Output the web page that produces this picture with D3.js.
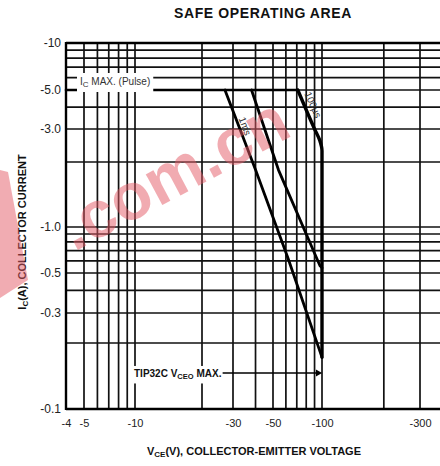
<!DOCTYPE html>
<html><head><meta charset="utf-8">
<script src="https://cdn.jsdelivr.net/npm/d3@7"></script>
<style>body{margin:0;background:#fff}svg{display:block}</style>
</head><body>
<script>
// ---- data ----
const xTickValues = [4, 5, 10, 30, 50, 100, 300];
const xTickLabels = ["-4", "-5", "-10", "-30", "-50", "-100", "-300"];
const yTickValues = [10, 5, 3, 1, 0.5, 0.3, 0.1];
const yTickLabels = ["-10", "-5.0", "-3.0", "-1.0", "-0.5", "-0.3", "-0.1"];
const xGridValues = [4, 5, 6, 7, 8, 9, 10, 20, 30, 40, 50, 60, 70, 80, 90, 100, 200, 300, 400];
const yGridValues = [0.1, 0.2, 0.3, 0.4, 0.5, 0.6, 0.7, 0.8, 0.9, 1, 2, 3, 4, 5, 6, 7, 8, 9, 10];
const icMaxV = [4, 71];
const icMaxI = [5, 5];
const us100V = [71, 90, 97, 100, 100];
const us100I = [5, 3, 2.6, 2.3, 0.172];
const curveAV = [27, 40, 62, 100];
const curveAI = [5, 1.84, 0.62, 0.172];
const curveBV = [38, 54, 97, 100];
const curveBI = [5, 1.84, 0.56, 0.54];
const vceoV = 100, vceoI = 0.146;

// ---- layout ----
const W = 440, H = 466;
const svg = d3.select("body").append("svg").attr("width", W).attr("height", H)
  .style("font-family", "'Liberation Sans', Arial, Helvetica, sans-serif");

// scanned paper is slightly warped; piecewise log scales follow the printed grid
const x = d3.scaleLog().domain([4, 5, 10, 20, 30, 50, 100, 300, 400])
  .range([66, 84, 135, 202, 233, 273, 322, 420, 446]);
const y = d3.scaleLog().domain([0.1, 0.2, 0.3, 0.5, 1, 2, 3, 5, 10])
  .range([409, 343, 313, 273, 227, 162, 129, 90, 43]);

const grid = svg.append("g").attr("stroke", "#111").attr("stroke-width", 1.7);
grid.selectAll("line.v").data(xGridValues).join("line").attr("class", "v")
  .attr("x1", d => x(d)).attr("x2", d => x(d))
  .attr("y1", y(10)).attr("y2", y(0.1));
grid.selectAll("line.h").data(yGridValues).join("line").attr("class", "h")
  .attr("x1", x(4)).attr("x2", W)
  .attr("y1", d => y(d)).attr("y2", d => y(d));

// frame emphasis
svg.append("line").attr("x1", x(4)).attr("x2", x(4)).attr("y1", y(10) - 1).attr("y2", y(0.1) + 1)
  .attr("stroke", "#000").attr("stroke-width", 2.4);
svg.append("line").attr("x1", x(4)).attr("x2", W).attr("y1", y(0.1)).attr("y2", y(0.1))
  .attr("stroke", "#000").attr("stroke-width", 2.4);
svg.append("line").attr("x1", x(4)).attr("x2", W).attr("y1", y(10)).attr("y2", y(10))
  .attr("stroke", "#000").attr("stroke-width", 2.4);

// axes
const yAxis = svg.append("g").attr("transform", `translate(${x(4)},0)`)
  .call(d3.axisLeft(y).tickValues(yTickValues).tickFormat((d, i) => yTickLabels[i]).tickSize(0).tickPadding(5));
yAxis.select(".domain").remove();
yAxis.selectAll("text").attr("font-size", 12).attr("fill", "#222").attr("font-family", "'Liberation Sans', Arial, sans-serif");

const xAxis = svg.append("g").attr("transform", `translate(0,${y(0.1)})`)
  .call(d3.axisBottom(x).tickValues(xTickValues).tickFormat((d, i) => xTickLabels[i]).tickSize(0).tickPadding(10));
xAxis.select(".domain").remove();
xAxis.selectAll("text").attr("font-size", 11).attr("fill", "#222").attr("font-family", "'Liberation Sans', Arial, sans-serif");

// curves
const line = d3.line().x(d => x(d[0])).y(d => y(d[1]));
const curves = svg.append("g").attr("fill", "none").attr("stroke", "#000")
  .attr("stroke-linejoin", "round").attr("stroke-linecap", "round");
curves.append("path").datum(icMaxV.map((v, i) => [v, icMaxI[i]])).attr("d", line).attr("stroke-width", 2.6);
curves.append("path").datum(us100V.map((v, i) => [v, us100I[i]]))
  .attr("d", d3.line().x(d => x(d[0])).y(d => y(d[1])).curve(d3.curveMonotoneY)).attr("stroke-width", 3.4);
curves.append("path").datum(curveAV.map((v, i) => [v, curveAI[i]])).attr("d", line).attr("stroke-width", 2.8);
curves.append("path").datum(curveBV.map((v, i) => [v, curveBI[i]])).attr("d", line).attr("stroke-width", 2.8);

// labels with white backing
function boxedText(g, pad) {
  const b = g.node().getBBox();
  g.insert("rect", ":first-child").attr("x", b.x - pad).attr("y", b.y - pad)
    .attr("width", b.width + 2 * pad).attr("height", b.height + 2 * pad).attr("fill", "#fff");
}
const icLab = svg.append("g");
const icT = icLab.append("text").attr("x", x(4) + 14).attr("y", y(5) - 5)
  .attr("font-size", 10).attr("fill", "#333");
icT.append("tspan").text("I");
icT.append("tspan").attr("font-size", 8).attr("dy", 2).text("C");
icT.append("tspan").attr("dy", -2).text(" MAX. (Pulse)");
boxedText(icLab, 3);

svg.append("text").attr("transform", `translate(${x(36) - 3},${y(3.1)}) rotate(70)`)
  .attr("text-anchor", "middle").attr("dominant-baseline", "middle")
  .attr("font-size", 10).attr("fill", "#333").text("1ms");
svg.append("text").attr("transform", `translate(${x(86) + 1},${y(4.1)}) rotate(66)`)
  .attr("text-anchor", "middle").attr("dominant-baseline", "middle")
  .attr("font-size", 10).attr("fill", "#333").text("100µs");

// VCEO max label with arrow
const vLab = svg.append("g");
const vT = vLab.append("text").attr("x", x(10) - 1).attr("y", y(vceoI) + 4)
  .attr("font-size", 10).attr("font-weight", "bold").attr("fill", "#111");
vT.append("tspan").text("TIP32C V");
vT.append("tspan").attr("font-size", 7.5).attr("dy", 2.5).text("CEO");
vT.append("tspan").attr("dy", -2.5).text(" MAX.");
boxedText(vLab, 2);
const vEnd = vT.node().getBBox();
svg.append("line").attr("x1", vEnd.x + vEnd.width + 1).attr("x2", x(vceoV) - 4)
  .attr("y1", y(vceoI)).attr("y2", y(vceoI)).attr("stroke", "#000").attr("stroke-width", 1.6);
svg.append("path").attr("d", d3.symbol(d3.symbolTriangle, 22)())
  .attr("transform", `translate(${x(vceoV) - 4},${y(vceoI)}) rotate(90)`).attr("fill", "#000");

// titles
svg.append("text").attr("x", 263).attr("y", 18).attr("text-anchor", "middle")
  .attr("font-size", 14).attr("font-weight", "bold").attr("letter-spacing", 0.6)
  .attr("fill", "#111").text("SAFE OPERATING AREA");

const xt = svg.append("text").attr("x", 254).attr("y", 455).attr("text-anchor", "middle")
  .attr("font-size", 11).attr("font-weight", "bold").attr("fill", "#111");
xt.append("tspan").text("V");
xt.append("tspan").attr("font-size", 8).attr("dy", 2).text("CE");
xt.append("tspan").attr("dy", -2).text("(V), COLLECTOR-EMITTER VOLTAGE");

const yt = svg.append("text").attr("transform", "translate(26,232) rotate(-90)")
  .attr("text-anchor", "middle").attr("font-size", 11).attr("font-weight", "bold").attr("fill", "#111");
yt.append("tspan").text("I");
yt.append("tspan").attr("font-size", 8).attr("dy", 2).text("C");
yt.append("tspan").attr("dy", -2).text("(A), COLLECTOR CURRENT");

// scan watermark
const wm = svg.append("g").attr("pointer-events", "none");
wm.append("path").attr("d", d3.line()([[0, 170], [8, 172], [28, 280], [0, 298]]) + "Z")
  .attr("fill", "#e45a66").attr("opacity", 0.5);
wm.append("text").attr("transform", "translate(74,252) rotate(-28)")
  .attr("font-size", 66).attr("font-weight", "bold").attr("fill", "#e45a66")
  .attr("opacity", 0.5).text(".com.cn");
</script>
</body></html>
